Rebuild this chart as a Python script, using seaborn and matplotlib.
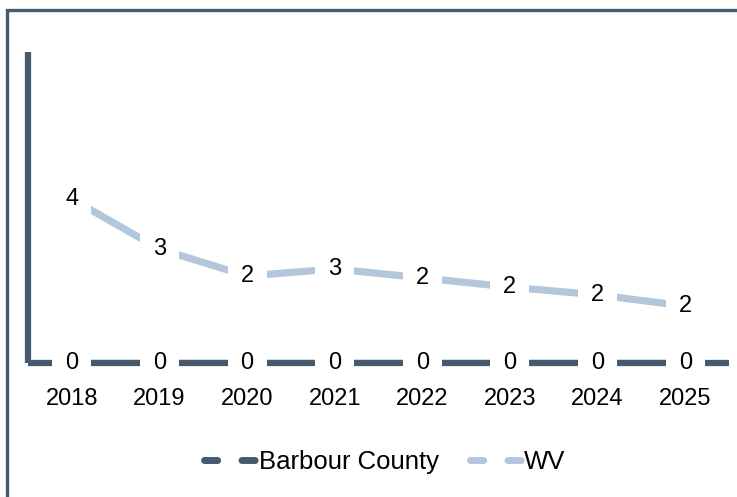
import pandas as pd
import matplotlib.pyplot as plt
import seaborn as sns
from matplotlib.lines import Line2D
from matplotlib.patches import Rectangle

YEARS = ['2018', '2019', '2020', '2021', '2022', '2023', '2024', '2025']
BARBOUR = [0, 0, 0, 0, 0, 0, 0, 0]
WV = [4.43, 3.08, 2.35, 2.54, 2.30, 2.05, 1.84, 1.54]
SERIES = ['Barbour County', 'WV']
COLORS = ['#465A6E', '#B4C7DA']

df = pd.DataFrame({
    'Year': YEARS * 2,
    'Value': BARBOUR + WV,
    'Series': [SERIES[0]] * len(YEARS) + [SERIES[1]] * len(YEARS),
})
df['x'] = list(range(len(YEARS))) * 2

sns.set_style('white')
plt.rcParams['font.family'] = ['Liberation Sans', 'DejaVu Sans']

fig = plt.figure(figsize=(7.37, 4.97), dpi=100)
# outer frame (runs off the right and bottom of the image)
fig.patches.append(Rectangle((7 / 737, -0.1), 1.2, (497 - 10) / 497 + 0.1,
                             transform=fig.transFigure, fill=False,
                             edgecolor='#465A6E', linewidth=2.4))

ax = fig.add_axes([28 / 737, (497 - 363) / 497, (729 - 28) / 737, (363 - 52) / 497])
sns.lineplot(data=df, x='x', y='Value', hue='Series', palette=COLORS,
             linewidth=5.2, ax=ax, legend=False)
for line in ax.lines:
    line.set_solid_capstyle('butt')

ax.set_xlim(-0.5, len(YEARS) - 0.5)
ax.set_ylim(0, 8.4)
ax.set_xticks(range(len(YEARS)))
ax.set_xticklabels(YEARS, fontsize=17, color='black')
ax.set_yticks([])
ax.tick_params(axis='x', length=0, pad=18)
ax.set_xlabel('')
ax.set_ylabel('')
for side in ['top', 'right']:
    ax.spines[side].set_visible(False)
for side in ['left', 'bottom']:
    ax.spines[side].set_color('#465A6E')
    ax.spines[side].set_linewidth(4.5)
    ax.spines[side].set_capstyle('butt')

for vals in [BARBOUR, WV]:
    for i, v in enumerate(vals):
        ax.text(i, v, f'{v:.0f}', ha='center', va='center', fontsize=17,
                color='black', zorder=5,
                bbox=dict(boxstyle='square,pad=0.55', facecolor='white',
                          edgecolor='none'))

handles = [Line2D([], [], color=c, linewidth=5, linestyle=(0, (1.9, 3.5)),
                  solid_capstyle='round', dash_capstyle='round') for c in COLORS]
leg = fig.legend(handles, SERIES, loc='center', bbox_to_anchor=(385 / 737, 1 - 462 / 497),
                 ncol=2, frameon=False, fontsize=18.5, handlelength=2.0,
                 handletextpad=0.12, columnspacing=1.2)
for t in leg.get_texts():
    t.set_color('black')

fig.savefig('out.png', dpi=100)
